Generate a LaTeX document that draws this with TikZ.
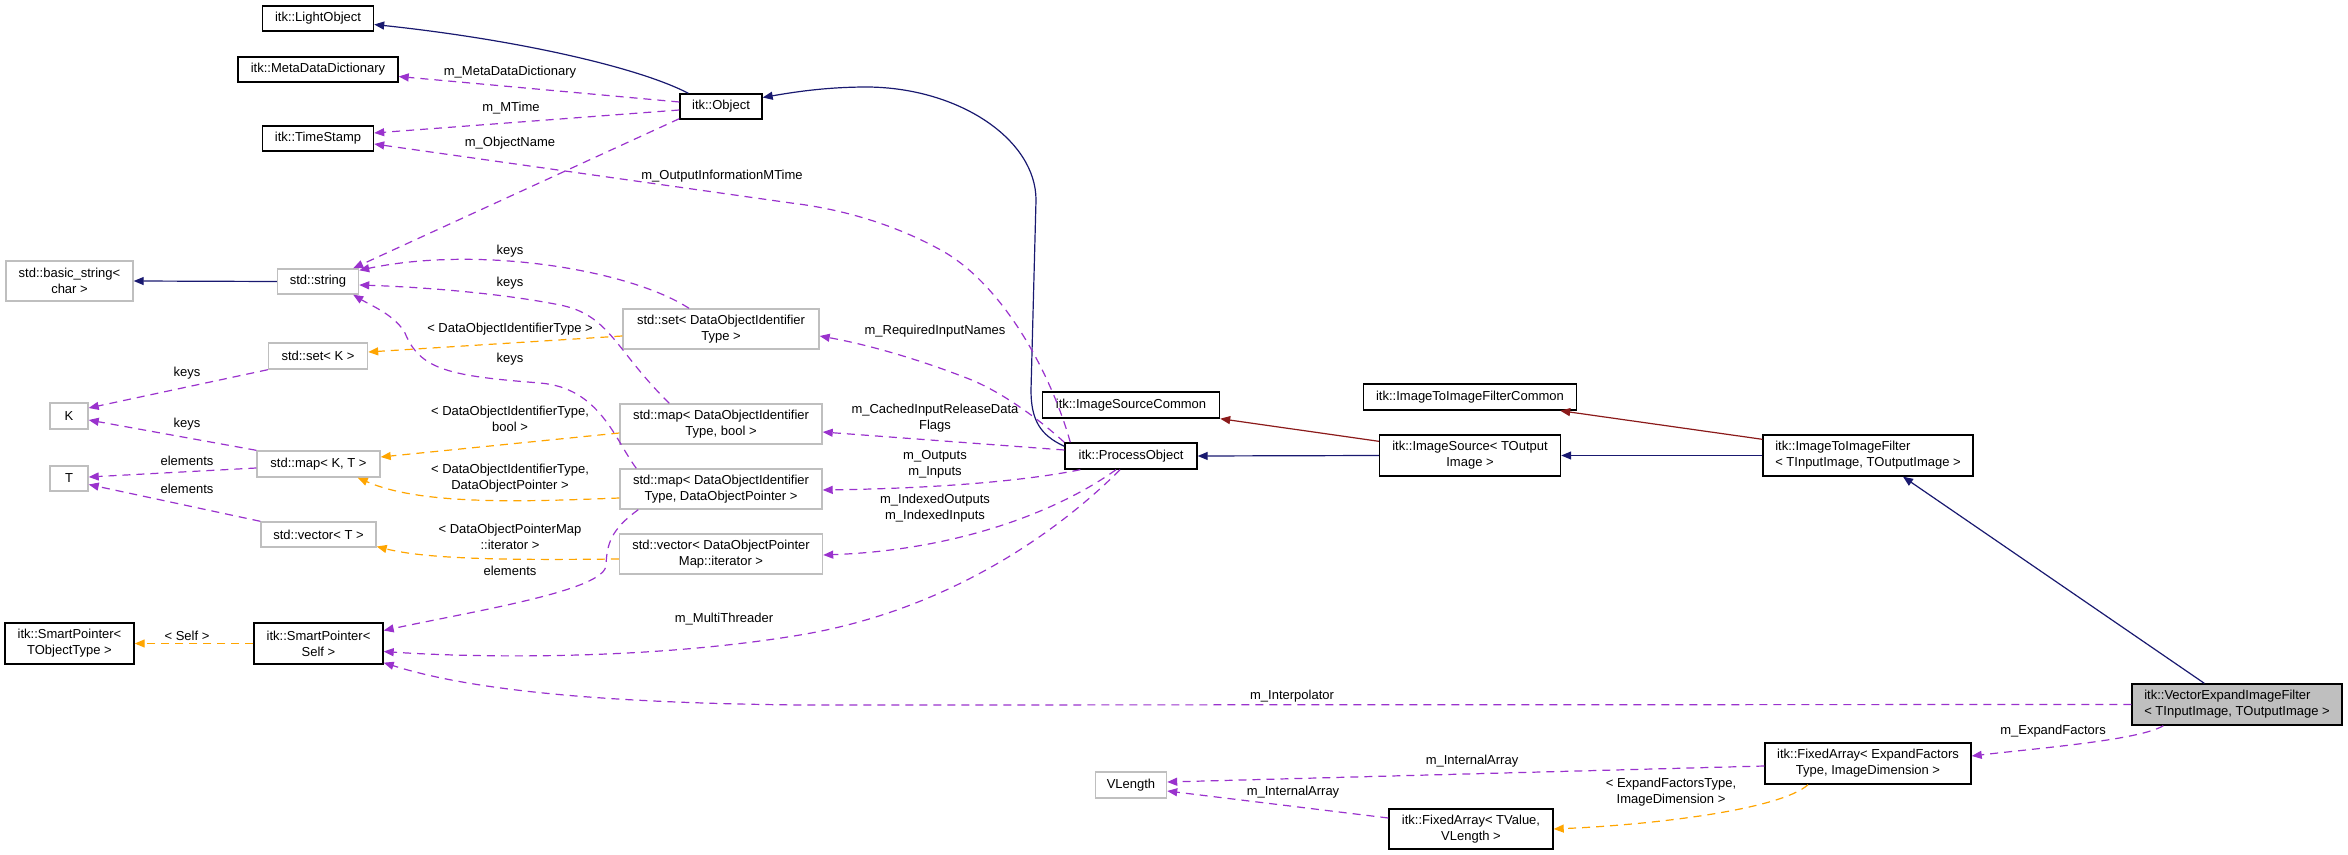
\documentclass[tikz,border=0pt]{standalone}
\usepackage{fontspec}
\setmainfont{Liberation Sans}
\usetikzlibrary{arrows.meta}
\definecolor{inherit}{HTML}{191970}
\definecolor{privinherit}{HTML}{8B1A1A}
\definecolor{usage}{HTML}{9A32CD}
\definecolor{tmpl}{HTML}{FFA500}
\definecolor{undoc}{HTML}{BFBFBF}
\definecolor{focusfill}{HTML}{BFBFBF}
\tikzset{>={Triangle[length=5pt,width=4pt]},
  every node/.style={font=\fontsize{6.5}{8}\selectfont},
  cls/.style={draw=black,fill=white,line width=.7pt,inner sep=0pt,align=center},
  ext/.style={cls,draw=undoc},
  focus/.style={cls,fill=focusfill,align=left},
  pub/.style={->,draw=inherit,line width=.6pt},
  priv/.style={->,draw=privinherit,line width=.6pt},
  member/.style={->,draw=usage,line width=.6pt,dash pattern=on 4pt off 3pt},
  inst/.style={->,draw=tmpl,line width=.6pt,dash pattern=on 4pt off 3pt},
  lbl/.style={align=center,inner sep=0pt}}
\begin{document}
\begin{tikzpicture}[x=0.5pt,y=-0.5pt]
\useasboundingbox (0,0) rectangle (2348,855);

\node[cls,minimum width=55.5pt,minimum height=12.5pt] (light) at (318,18.5) {itk::LightObject};
\node[cls,minimum width=80pt,minimum height=12.5pt] (meta) at (318,69.5) {itk::MetaDataDictionary};
\node[cls,minimum width=55.5pt,minimum height=12.5pt] (stamp) at (318,138.5) {itk::TimeStamp};
\node[cls,minimum width=41pt,minimum height=12.5pt] (object) at (721,106.5) {itk::Object};
\node[ext,minimum width=63.5pt,minimum height=20pt] (basicstr) at (69.5,281) {std::basic\_string<\\char >};
\node[ext,minimum width=40.5pt,minimum height=12.5pt] (str) at (318,281.5) {std::string};
\node[ext,minimum width=49.5pt,minimum height=13pt] (setk) at (318,356) {std::set< K >};
\node[ext,minimum width=19pt,minimum height=13pt] (kk) at (69,416) {K};
\node[ext,minimum width=61.5pt,minimum height=13pt] (mapkt) at (318.5,464) {std::map< K, T >};
\node[ext,minimum width=19pt,minimum height=12.5pt] (tt) at (69,478.5) {T};
\node[ext,minimum width=57.5pt,minimum height=12.5pt] (vect) at (318.5,534.5) {std::vector< T >};
\node[cls,minimum width=64.5pt,minimum height=20.5pt] (sptobj) at (69.5,643.5) {itk::SmartPointer<\\TObjectType >};
\node[cls,minimum width=64.5pt,minimum height=20.5pt] (spself) at (318.5,643.5) {itk::SmartPointer<\\Self >};
\node[ext,minimum width=98pt,minimum height=20pt] (setdoi) at (721,329) {std::set< DataObjectIdentifier\\Type >};
\node[ext,minimum width=101pt,minimum height=20pt] (mapbool) at (721,424) {std::map< DataObjectIdentifier\\Type, bool >};
\node[ext,minimum width=101pt,minimum height=20pt] (mapdop) at (721,489) {std::map< DataObjectIdentifier\\Type, DataObjectPointer >};
\node[ext,minimum width=101.5pt,minimum height=20pt] (vecdop) at (721,554) {std::vector< DataObjectPointer\\Map::iterator >};
\node[cls,minimum width=66pt,minimum height=13pt] (procobj) at (1131,456) {itk::ProcessObject};
\node[cls,minimum width=88.5pt,minimum height=13pt] (srccommon) at (1131,405) {itk::ImageSourceCommon};
\node[cls,minimum width=90.5pt,minimum height=20.5pt] (imgsrc) at (1470,455.5) {itk::ImageSource< TOutput\\Image >};
\node[cls,minimum width=106.5pt,minimum height=13pt] (filtcommon) at (1470,397) {itk::ImageToImageFilterCommon};
\node[cls,align=left,minimum width=105pt,minimum height=20.5pt] (filter) at (1868,455.5) {itk::ImageToImageFilter\\< TInputImage, TOutputImage >};
\node[focus,minimum width=105pt,minimum height=20.5pt] (vexpand) at (2237,704.5) {itk::VectorExpandImageFilter\\< TInputImage, TOutputImage >};
\node[cls,minimum width=103pt,minimum height=20.5pt] (fixef) at (1868,763.5) {itk::FixedArray< ExpandFactors\\Type, ImageDimension >};
\node[ext,minimum width=35.5pt,minimum height=13pt] (vlength) at (1131,785) {VLength};
\node[cls,minimum width=82pt,minimum height=20pt] (fixtv) at (1471,829) {itk::FixedArray< TValue,\\VLength >};

\draw[pub] ([xshift=4.5pt]object.north west) .. controls (640,68) and (520,40) .. ([yshift=-3pt]light.east);
\draw[pub] ([yshift=-2pt]procobj.north west) .. controls (1040,435) and (1031,420) .. (1031,390) -- (1036,200) .. controls (1036,140) and (960,88) .. (868,87) .. controls (830,87) and (800,91) .. ([yshift=4.5pt]object.east);
\draw[pub] (str.west) -- (basicstr.east);
\draw[pub] (imgsrc.west) -- (procobj.east);
\draw[pub] (filter.west) -- (imgsrc.east);
\draw[pub] ([xshift=36.5pt]vexpand.north west) -- ([xshift=17.5pt]filter.south);
\draw[priv] ([yshift=-3.5pt]imgsrc.north west) -- (srccommon.south east);
\draw[priv] ([yshift=-2.5pt]filter.north west) -- ([xshift=-8.5pt]filtcommon.south east);

\draw[member] ([yshift=2.25pt]object.west) -- ([yshift=-3.5pt]meta.east);
\draw[member] ([yshift=-1.75pt]object.west) -- ([yshift=2.75pt]stamp.east);
\draw[member] ([yshift=.5pt]object.south west) -- ([xshift=-3pt]str.north east);
\draw[member] ([xshift=3pt]procobj.north west) .. controls (1050,370) and (1000,280) .. (937,248) .. controls (900,228) and (850,210) .. (791,203) -- ([yshift=-2.75pt]stamp.east);
\draw[member] ([xshift=-16pt]setdoi.north) .. controls (630,270) and (480,245) .. ([yshift=-1pt]str.north east);
\draw[member] ([xshift=25pt]mapbool.north west) .. controls (615,350) and (610,315) .. (560,305) .. controls (500,293) and (420,287) .. ([yshift=-1.75pt]str.east);
\draw[member] ([xshift=8.5pt]mapdop.north west) .. controls (615,440) and (600,388) .. (540,383) .. controls (450,376) and (420,370) .. (405,333) .. controls (395,315) and (370,305) .. ([xshift=-3pt]str.south east);
\draw[member] (setk.south west) -- ([yshift=4pt]kk.east);
\draw[member] (mapkt.north west) -- ([yshift=-2pt]kk.east);
\draw[member] ([yshift=-2pt]mapkt.west) -- ([yshift=.75pt]tt.east);
\draw[member] (vect.north west) -- ([yshift=-3pt]tt.east);
\draw[member] ([xshift=9.5pt]mapdop.south west) .. controls (610,530) and (607,545) .. (606,565) .. controls (606,590) and (480,610) .. ([yshift=6.5pt]spself.east);
\draw[member] ([xshift=-5.5pt]procobj.south) .. controls (1060,530) and (950,610) .. (800,635) .. controls (650,660) and (480,658) .. ([yshift=-4pt]spself.east);
\draw[member] (vexpand.west) -- (800,705) .. controls (600,703) and (470,690) .. ([yshift=1pt]spself.south east);
\draw[member] (procobj.north west) .. controls (1040,420) and (1000,390) .. (964,377) .. controls (920,360) and (870,345) .. ([yshift=-3.5pt]setdoi.east);
\draw[member] ([yshift=3pt]procobj.west) -- ([yshift=-4pt]mapbool.east);
\draw[member] ([xshift=8pt]procobj.south west) .. controls (1040,478) and (960,488) .. ([yshift=-.5pt]mapdop.east);
\draw[member] ([xshift=-7.5pt]procobj.south) .. controls (1060,510) and (960,550) .. ([yshift=-.5pt]vecdop.east);
\draw[member] ([xshift=16pt]vexpand.south west) .. controls (2140,740) and (2040,748) .. ([yshift=3.75pt]fixef.east);
\draw[member] ([yshift=-1.25pt]fixef.west) -- ([yshift=1.5pt]vlength.east);
\draw[member] ([yshift=5.5pt]fixtv.west) -- ([yshift=-3pt]vlength.east);

\draw[inst] ([yshift=-3.5pt]setdoi.west) -- ([yshift=2pt]setk.east);
\draw[inst] ([yshift=-4.5pt]mapbool.west) -- ([yshift=3.5pt]mapkt.east);
\draw[inst] ([yshift=-4.5pt]mapdop.west) .. controls (520,502) and (420,505) .. ([xshift=-11.5pt]mapkt.south east);
\draw[inst] ([yshift=-2.5pt]vecdop.west) .. controls (520,560) and (430,560) .. ([yshift=-6pt]vect.east);
\draw[inst] (spself.west) -- (sptobj.east);
\draw[inst] ([xshift=-30pt]fixef.south) .. controls (1780,810) and (1650,825) .. (fixtv.east);

\node[lbl] (lmeta) at (510,72) {m\_MetaDataDictionary};
\node[lbl] (lmtime) at (511,108) {m\_MTime};
\node[lbl] (lname) at (510,143) {m\_ObjectName};
\node[lbl] (lomtime) at (722,176) {m\_OutputInformationMTime};
\node[lbl] (lkeysa) at (510,251) {keys};
\node[lbl] (lkeysb) at (510,283) {keys};
\node[lbl] (lkeysc) at (510,359) {keys};
\node[lbl] (lkeysd) at (187,373) {keys};
\node[lbl] (lkeyse) at (187,424) {keys};
\node[lbl] (lelema) at (187,461) {elements};
\node[lbl] (lelemb) at (187,489) {elements};
\node[lbl] (lelemc) at (510,571) {elements};
\node[lbl] (lthread) at (724,619) {m\_MultiThreader};
\node[lbl] (linterp) at (1292,696) {m\_Interpolator};
\node[lbl] (lreq) at (935,331) {m\_RequiredInputNames};
\node[lbl] (lcached) at (935,418) {m\_CachedInputReleaseData\\Flags};
\node[lbl] (lio) at (935,464) {m\_Outputs\\m\_Inputs};
\node[lbl] (lidx) at (935,508) {m\_IndexedOutputs\\m\_IndexedInputs};
\node[lbl] (lexpand) at (2053,731) {m\_ExpandFactors};
\node[lbl] (liarra) at (1472,761) {m\_InternalArray};
\node[lbl] (liarrb) at (1293,792) {m\_InternalArray};
\node[lbl] (ltset) at (510,329) {< DataObjectIdentifierType >};
\node[lbl] (ltbool) at (510,419) {< DataObjectIdentifierType,\\bool >};
\node[lbl] (ltdop) at (510,478) {< DataObjectIdentifierType,\\DataObjectPointer >};
\node[lbl] (ltiter) at (510,537) {< DataObjectPointerMap\\::iterator >};
\node[lbl] (ltself) at (187,636) {< Self >};
\node[lbl] (ltexp) at (1671,792) {< ExpandFactorsType,\\ImageDimension >};
\end{tikzpicture}
\end{document}
